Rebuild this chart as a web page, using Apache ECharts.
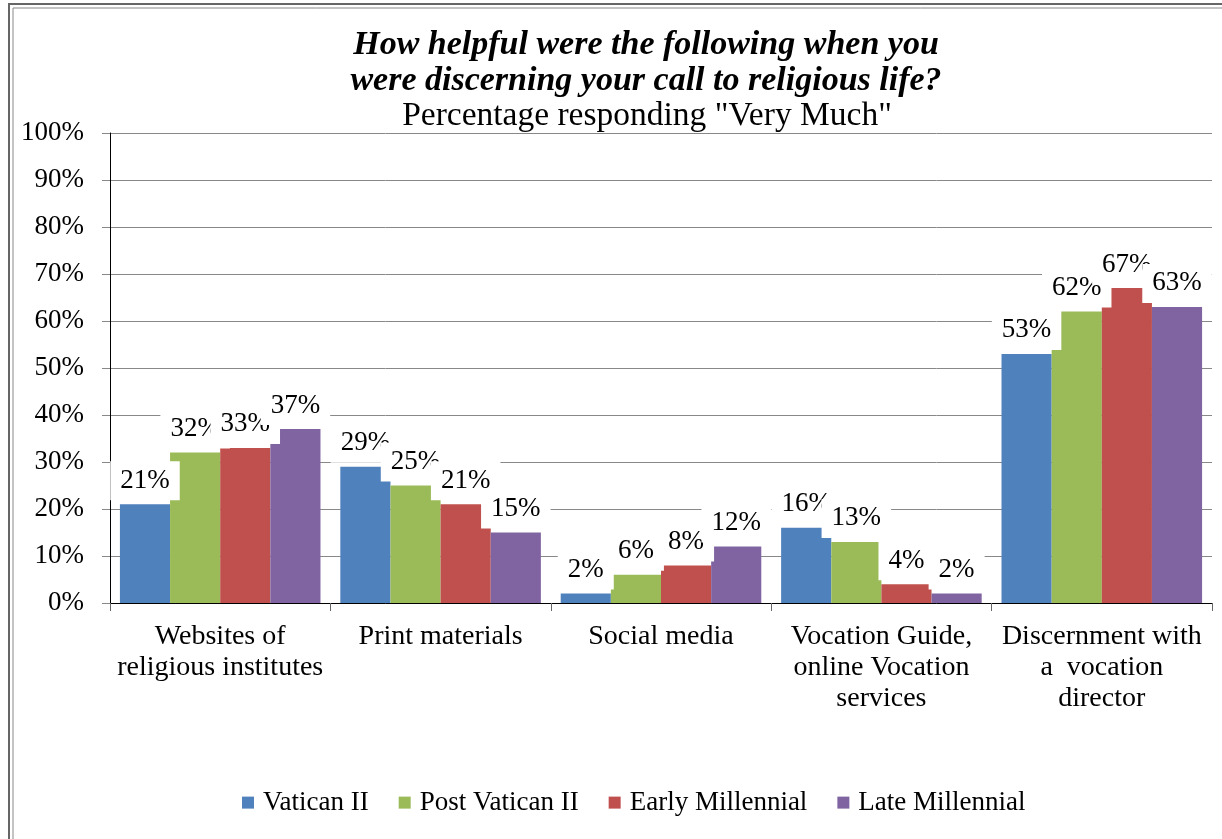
<html>
<head>
    <script src="https://cdn.jsdelivr.net/npm/echarts@6/dist/echarts.min.js"></script>
    <style>
        body { margin: 0; background: #fff; }
        #chart { width: 1222px; height: 839px; }
    </style>
</head>
<body>
    <div id="chart"></div>
    <script>
        const categories = [
            'Websites of\nreligious institutes',
            'Print materials',
            'Social media',
            'Vocation Guide,\nonline Vocation\nservices',
            'Discernment with\na  vocation\ndirector'
        ];
        const seriesNames = ['Vatican II', 'Post Vatican II', 'Early Millennial', 'Late Millennial'];
        const vatican2 = [21, 29, 2, 16, 53];
        const postVatican2 = [32, 25, 6, 13, 62];
        const earlyMillennial = [33, 21, 8, 4, 67];
        const lateMillennial = [37, 15, 12, 2, 63];
        const colors = ['#4F81BD', '#9BBB59', '#C0504D', '#8064A2'];

        const font = "'Liberation Serif', 'DejaVu Serif', serif";
        const chart = echarts.init(document.getElementById('chart'));

        // white label boxes overlap the neighbouring bars, like the original
        const makeSeries = (name, values, color) => ({
            name: name,
            type: 'bar',
            data: values,
            barGap: 0,
            barCategoryGap: '9%',
            itemStyle: { color: color },
            label: {
                show: true,
                position: 'top',
                distance: 4,
                formatter: '{c}%',
                color: '#000',
                fontFamily: font,
                fontSize: 27,
                lineHeight: 27,
                backgroundColor: '#fff',
                padding: [6, 10]
            }
        });

        chart.setOption({
            backgroundColor: '#fff',
            animation: false,
            color: colors,
            title: [
                {
                    text: 'How helpful were the following when you\nwere discerning your call to religious life?',
                    left: 641,
                    textAlign: 'center',
                    top: 22,
                    textStyle: {
                        fontFamily: font,
                        fontSize: 34,
                        fontWeight: 'bold',
                        fontStyle: 'italic',
                        color: '#000',
                        lineHeight: 36
                    }
                },
                {
                    text: 'Percentage responding "Very Much"',
                    left: 642,
                    textAlign: 'center',
                    top: 93,
                    textStyle: {
                        fontFamily: font,
                        fontSize: 33.5,
                        fontWeight: 'normal',
                        color: '#000',
                        lineHeight: 36
                    }
                }
            ],
            legend: {
                data: seriesNames,
                left: 237,
                top: 777,
                icon: 'rect',
                itemWidth: 12,
                itemHeight: 12,
                itemGap: 30,
                textStyle: { fontFamily: font, fontSize: 27, color: '#000', padding: [0, 0, 0, 4] }
            },
            grid: { left: 110, right: 10, top: 133, bottom: 236, containLabel: false },
            xAxis: {
                type: 'category',
                data: categories,
                axisLine: { lineStyle: { color: '#000', width: 1 } },
                axisTick: { show: true, length: 8, lineStyle: { color: '#666' } },
                axisLabel: {
                    color: '#000',
                    fontFamily: font,
                    fontSize: 28,
                    lineHeight: 31,
                    margin: 18,
                    interval: 0
                }
            },
            yAxis: {
                type: 'value',
                min: 0,
                max: 100,
                interval: 10,
                axisLine: { show: true, lineStyle: { color: '#000' } },
                axisTick: { show: true, length: 8, lineStyle: { color: '#888' } },
                splitLine: { lineStyle: { color: '#888', width: 1 } },
                axisLabel: {
                    formatter: '{value}%',
                    color: '#000',
                    fontFamily: font,
                    fontSize: 27,
                    margin: 26
                }
            },
            graphic: [
                { type: 'rect', silent: true, z: 100, shape: { x: 9, y: 4, width: 1300, height: 900 },
                  style: { fill: null, stroke: '#666', lineWidth: 2 } },
                { type: 'rect', silent: true, z: 100, shape: { x: 13, y: 8, width: 1300, height: 900 },
                  style: { fill: null, stroke: '#888', lineWidth: 1 } }
            ],
            series: [
                makeSeries(seriesNames[0], vatican2, colors[0]),
                makeSeries(seriesNames[1], postVatican2, colors[1]),
                makeSeries(seriesNames[2], earlyMillennial, colors[2]),
                makeSeries(seriesNames[3], lateMillennial, colors[3])
            ]
        });
    </script>
</body>
</html>
